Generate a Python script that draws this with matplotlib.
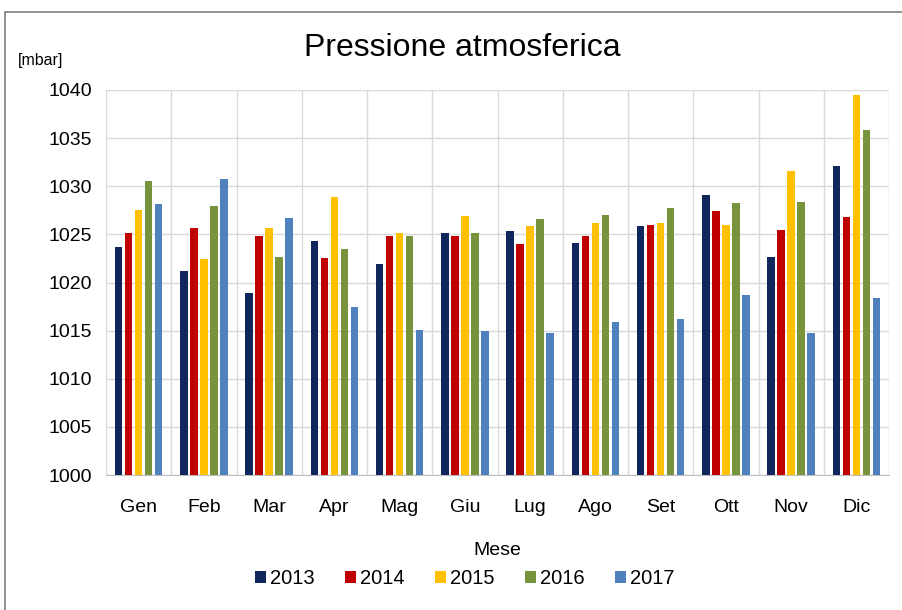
import matplotlib
matplotlib.use("Agg")
import matplotlib.pyplot as plt
from matplotlib.patches import Rectangle
import numpy as np

plt.rcParams['font.family'] = ['Liberation Sans', 'DejaVu Sans']

mesi = ["Gen", "Feb", "Mar", "Apr", "Mag", "Giu", "Lug", "Ago", "Set", "Ott", "Nov", "Dic"]
anni = ["2013", "2014", "2015", "2016", "2017"]

p2013 = [1023.7, 1021.2, 1018.9, 1024.3, 1021.9, 1025.1, 1025.4, 1024.1, 1025.9, 1029.1, 1022.6, 1032.1]
p2014 = [1025.1, 1025.7, 1024.8, 1022.5, 1024.8, 1024.8, 1024.0, 1024.8, 1026.0, 1027.4, 1025.5, 1026.8]
p2015 = [1027.5, 1022.4, 1025.7, 1028.9, 1025.1, 1026.9, 1025.9, 1026.2, 1026.2, 1026.0, 1031.6, 1039.5]
p2016 = [1030.5, 1028.0, 1022.6, 1023.5, 1024.8, 1025.1, 1026.6, 1027.0, 1027.7, 1028.3, 1028.4, 1035.8]
p2017 = [1028.2, 1030.8, 1026.7, 1017.5, 1015.1, 1015.0, 1014.8, 1015.9, 1016.2, 1018.7, 1014.8, 1018.4]

colori = ["#10275e", "#c00000", "#ffc000", "#77933c", "#4f81bd"]

serie = [p2013, p2014, p2015, p2016, p2017]

fig = plt.figure(figsize=(9.02, 6.10), dpi=100)
ax = fig.add_axes([106 / 902, 1 - 475 / 610, (889 - 106) / 902, (475 - 90) / 610])

x = np.arange(len(mesi))
passo = 0.153
larg = 0.115
for i, (vals, anno) in enumerate(zip(serie, anni)):
    ax.bar(x + (i - 2) * passo, np.array(vals) - 1000, bottom=1000, width=larg,
           color=colori[i], label=anno, zorder=3)

ax.set_ylim(1000, 1040)
ax.set_xlim(-0.5, len(mesi) - 0.5)
ax.set_yticks(range(1000, 1041, 5))
ax.set_xticks(x)
ax.set_xticklabels(mesi)
ax.set_xticks(np.arange(-0.5, len(mesi), 1), minor=True)
ax.tick_params(axis='x', which='major', length=0, pad=17, labelsize=14)
ax.tick_params(axis='x', which='minor', length=0)
ax.tick_params(axis='y', length=0, pad=10, labelsize=14)
ax.grid(axis='y', which='major', color='#d9d9d9', lw=1, zorder=0)
ax.grid(axis='x', which='minor', color='#d9d9d9', lw=1, zorder=0)
for s in ['top', 'right', 'left']:
    ax.spines[s].set_visible(False)
ax.spines['bottom'].set_color('#bfbfbf')

ax.set_xlabel("Mese", fontsize=14, labelpad=19)
fig.text(18 / 902, 1 - 60 / 610, "[mbar]", fontsize=11.5, va='center', ha='left')
fig.text(462 / 902, 1 - 48 / 610, "Pressione atmosferica", fontsize=23, va='center', ha='center')

fig.legend(loc='center', bbox_to_anchor=(465 / 902, 1 - 579 / 610), ncol=5, frameon=False,
           fontsize=14.5, handlelength=0.55, handleheight=0.55, handletextpad=0.2,
           columnspacing=1.5)

fig.patches.append(Rectangle((5 / 902, -0.01), 1.0, 1 - 12 / 610 + 0.01, transform=fig.transFigure,
                             fill=False, edgecolor='#7f7f7f', lw=1.2))

fig.savefig("out.png", dpi=100)
